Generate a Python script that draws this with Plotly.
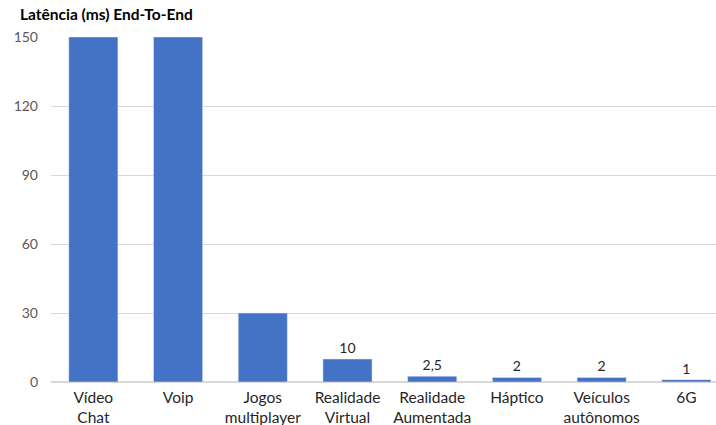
import plotly.graph_objects as go

categories = ["Vídeo<br>Chat", "Voip", "Jogos<br>multiplayer", "Realidade<br>Virtual",
              "Realidade<br>Aumentada", "Háptico", "Veículos<br>autônomos", "6G"]
values = [150, 150, 30, 10, 2.5, 2, 2, 1]
labels = ["", "", "", "10", "2,5", "2", "2", "1"]
tick_vals = [0, 30, 60, 90, 120, 150]

font_family = "Lato, 'Open Sans', sans-serif"

fig = go.Figure(go.Bar(
    x=list(range(len(categories))), y=values, text=labels, textposition="outside",
    textfont=dict(size=14, color="#262626", family=font_family),
    marker=dict(color="#4472C4"), cliponaxis=True, hoverinfo="skip",
))

fig.update_layout(
    width=716, height=425,
    margin=dict(l=51, r=0, t=37, b=43),
    paper_bgcolor="white", plot_bgcolor="white",
    bargap=0.42,
    showlegend=False,
    separators=",.",
    font=dict(family=font_family),
)
fig.update_xaxes(
    tickvals=list(range(len(categories))), ticktext=categories,
    range=[-0.5, 7.35], fixedrange=True,
    tickfont=dict(size=15.5, color="#262626", family=font_family),
    showgrid=False, showline=False, ticks="", ticklabelstandoff=4,
)
fig.update_yaxes(
    range=[0, 150], tickvals=tick_vals, fixedrange=True,
    tickfont=dict(size=14, color="#595959", family=font_family),
    gridcolor="#D9D9D9", gridwidth=1, zeroline=True, zerolinecolor="#D9D9D9",
    ticklabelstandoff=12, showline=False,
)
fig.add_annotation(
    text="<b>Latência (ms) End-To-End</b>", xref="paper", yref="paper",
    x=0, xanchor="left", xshift=-33, y=1, yanchor="bottom", yshift=12,
    showarrow=False, font=dict(size=15.5, color="#000000", family=font_family),
)

fig.write_html("out.html")
